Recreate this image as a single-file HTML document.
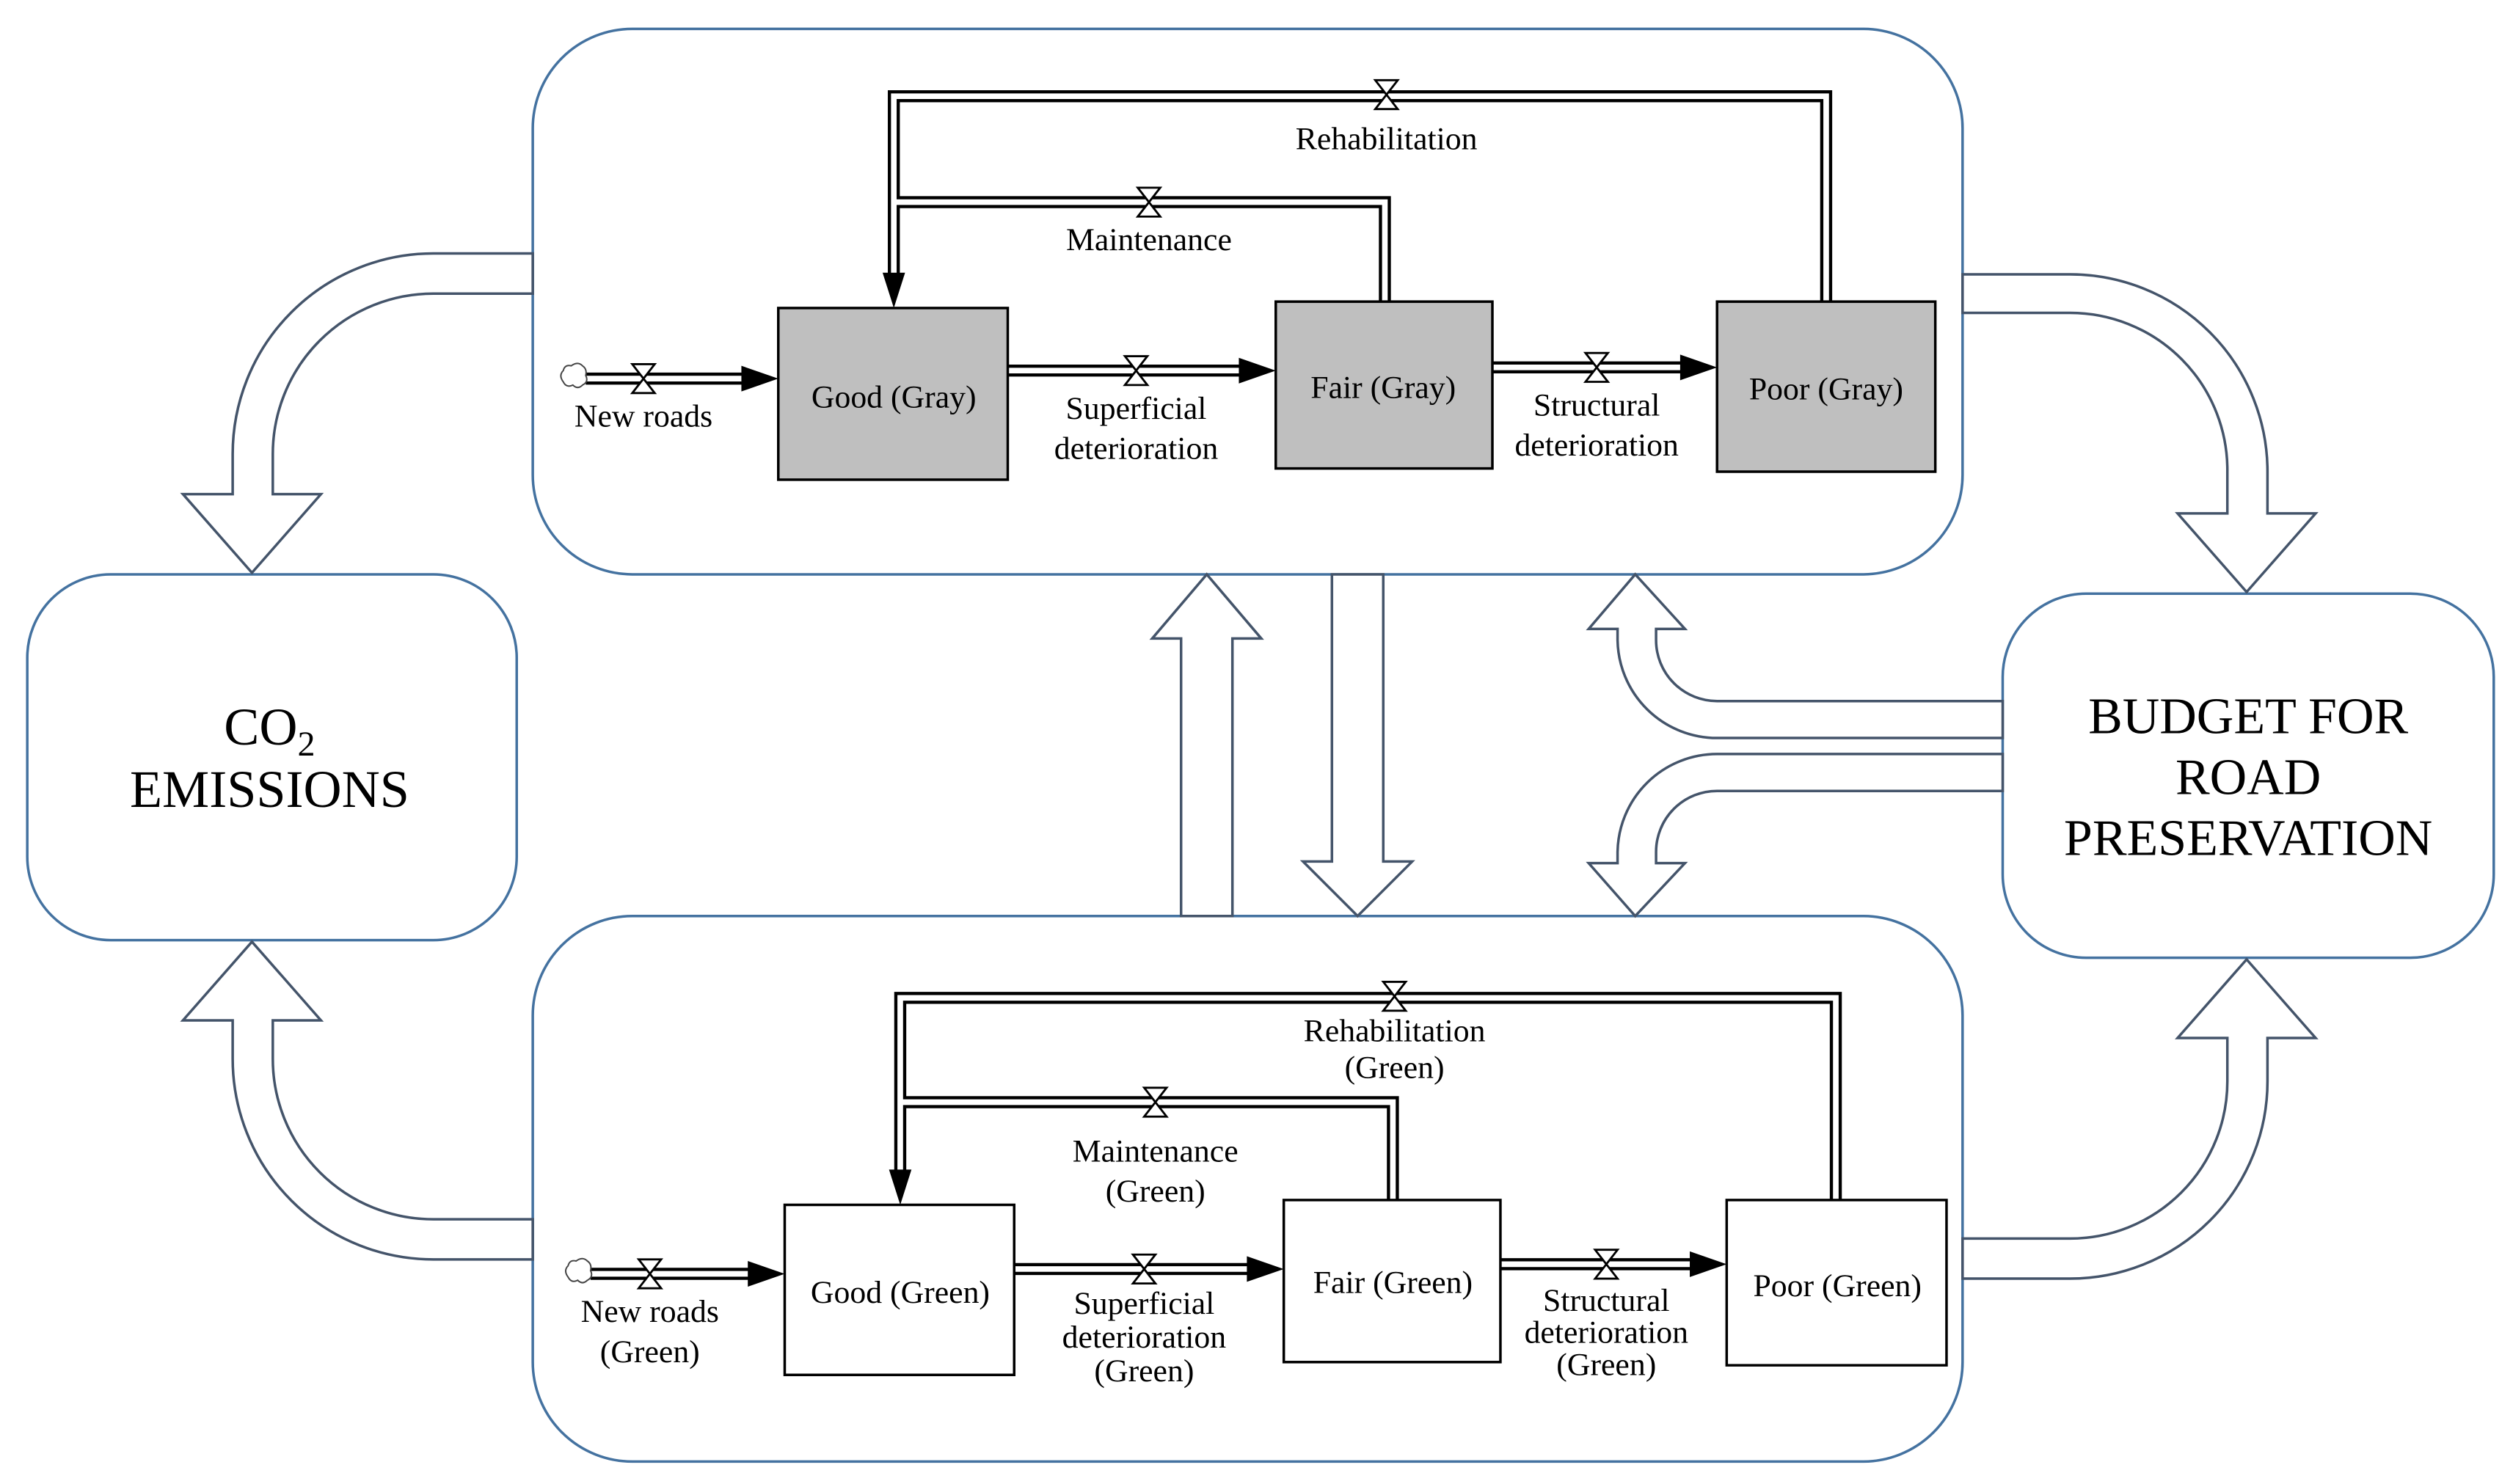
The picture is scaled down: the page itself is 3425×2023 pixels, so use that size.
<!DOCTYPE html>
<html><head><meta charset="utf-8"><style>
html,body{margin:0;padding:0;background:#fff;}
svg{display:block;}
text{font-family:"Liberation Serif",serif;fill:#000;}
</style></head><body>
<svg width="3425" height="2023" viewBox="0 0 1566 925" preserveAspectRatio="none" xmlns="http://www.w3.org/2000/svg">
<defs>
<g id="valve"><polygon points="-7,-9 7,-9 -7,9 7,9" fill="#fff" stroke="#000" stroke-width="1.3" stroke-linejoin="miter"/><line x1="-5" y1="0" x2="5" y2="0" stroke="#000" stroke-width="0"/></g>
</defs>
<!-- big boxes -->
<rect x="332" y="18" width="891" height="340" rx="62" fill="#fff" stroke="#4472a0" stroke-width="1.6"/>
<rect x="332" y="571" width="891" height="340" rx="62" fill="#fff" stroke="#4472a0" stroke-width="1.6"/>
<rect x="17" y="358" width="305" height="228" rx="52" fill="#fff" stroke="#4472a0" stroke-width="1.6"/>
<rect x="1248" y="370" width="306" height="227" rx="52" fill="#fff" stroke="#4472a0" stroke-width="1.6"/>

<g fill="#fff" stroke="#44546a" stroke-width="1.6" stroke-linejoin="miter">
<!-- top-left curved -->
<path d="M332,158 L270,158 A125,125 0 0 0 145,283 L145,308 L114,308 L157,357 L200,308 L170,308 L170,283 A100,100 0 0 1 270,183 L332,183 Z"/>
<!-- bottom-left curved -->
<path d="M332,785 L270,785 A125,125 0 0 1 145,660 L145,636 L114,636 L157,587 L200,636 L170,636 L170,660 A100,100 0 0 0 270,760 L332,760 Z"/>
<!-- top-right curved -->
<path d="M1223,171 L1290,171 A123,123 0 0 1 1413,294 L1413,320 L1443,320 L1400,369 L1357,320 L1388,320 L1388,294 A98,98 0 0 0 1290,195 L1223,195 Z"/>
<!-- bottom-right curved -->
<path d="M1223,797 L1290,797 A123,123 0 0 0 1413,674 L1413,647 L1443,647 L1400,598 L1357,647 L1388,647 L1388,674 A98,98 0 0 1 1290,772 L1223,772 Z"/>
<!-- middle up -->
<path d="M736,571 L736,398 L718,398 L752,358 L786,398 L768,398 L768,571 Z"/>
<!-- middle down -->
<path d="M830,358 L830,537 L812,537 L846,571 L880,537 L862,537 L862,358 Z"/>
<!-- budget to top -->
<path d="M1248,437 L1070,437 A38,38 0 0 1 1032,399 L1032,392 L1050,392 L1019,358 L990,392 L1008,392 L1008,399 A62,62 0 0 0 1070,460 L1248,460 Z"/>
<!-- budget to bottom -->
<path d="M1248,493 L1070,493 A38,38 0 0 0 1032,531 L1032,538 L1050,538 L1019,571 L990,538 L1008,538 L1008,531 A62,62 0 0 1 1070,470 L1248,470 Z"/>
</g>

<!-- text in side boxes -->
<text x="168" y="464" font-size="33" text-anchor="middle">CO<tspan font-size="22" dy="7">2</tspan></text>
<text x="168" y="503" font-size="33" text-anchor="middle">EMISSIONS</text>
<text x="1401" y="457" font-size="32" text-anchor="middle">BUDGET FOR</text>
<text x="1401" y="495" font-size="32" text-anchor="middle">ROAD</text>
<text x="1401" y="533" font-size="32" text-anchor="middle">PRESERVATION</text>

<!-- ===== TOP PIPES ===== -->
<g fill="none" stroke-linejoin="miter">
<g stroke="#000" stroke-width="7.5">
<polyline points="1138,188 1138,60 557,60 557,178"/>
<polyline points="863,188 863,126 557,126"/>
<line x1="365" y1="236" x2="466" y2="236"/>
<line x1="628" y1="231" x2="776" y2="231"/>
<line x1="930" y1="229" x2="1050" y2="229"/>
</g>
<g stroke="#fff" stroke-width="3.5">
<polyline points="1138,188 1138,60 557,60 557,178"/>
<polyline points="863,188 863,126 557,126"/>
<line x1="365" y1="236" x2="466" y2="236"/>
<line x1="628" y1="231" x2="776" y2="231"/>
<line x1="930" y1="229" x2="1050" y2="229"/>
</g>
</g>
<polygon points="550,170 564,170 557,192" fill="#000"/>
<polygon points="462,228 462,244 485,236" fill="#000"/>
<polygon points="772,223 772,239 795,231" fill="#000"/>
<polygon points="1047,221 1047,237 1070,229" fill="#000"/>
<use href="#valve" x="864" y="59"/>
<use href="#valve" x="716" y="126"/>
<use href="#valve" x="401" y="236"/>
<use href="#valve" x="708" y="231"/>
<use href="#valve" x="995" y="229"/>
<path d="M356,228 q4,-3 7,0 q3,2 2,6 q2,4 -2,6 q-3,3 -6,0 q-4,2 -6,-2 q-3,-4 0,-7 q1,-4 5,-3z" fill="#fff" stroke="#444" stroke-width="0.9"/>

<rect x="485" y="192" width="143" height="107" fill="#bfbfbf" stroke="#000" stroke-width="1.6"/>
<rect x="795" y="188" width="135" height="104" fill="#bfbfbf" stroke="#000" stroke-width="1.6"/>
<rect x="1070" y="188" width="136" height="106" fill="#bfbfbf" stroke="#000" stroke-width="1.6"/>
<g font-size="20" text-anchor="middle">
<text x="557" y="254">Good (Gray)</text>
<text x="862" y="248">Fair (Gray)</text>
<text x="1138" y="249">Poor (Gray)</text>
<text x="864" y="93">Rehabilitation</text>
<text x="716" y="156">Maintenance</text>
<text x="401" y="266">New roads</text>
<text x="708" y="261">Superficial</text>
<text x="708" y="286">deterioration</text>
<text x="995" y="259">Structural</text>
<text x="995" y="284">deterioration</text>
</g>

<!-- ===== BOTTOM PIPES ===== -->
<g fill="none" stroke-linejoin="miter">
<g stroke="#000" stroke-width="7.5">
<polyline points="1144,748 1144,622 561,622 561,737"/>
<polyline points="868,748 868,687 561,687"/>
<line x1="368" y1="794" x2="470" y2="794"/>
<line x1="632" y1="791" x2="781" y2="791"/>
<line x1="935" y1="788" x2="1057" y2="788"/>
</g>
<g stroke="#fff" stroke-width="3.5">
<polyline points="1144,748 1144,622 561,622 561,737"/>
<polyline points="868,748 868,687 561,687"/>
<line x1="368" y1="794" x2="470" y2="794"/>
<line x1="632" y1="791" x2="781" y2="791"/>
<line x1="935" y1="788" x2="1057" y2="788"/>
</g>
</g>
<polygon points="554,729 568,729 561,751" fill="#000"/>
<polygon points="466,786 466,802 489,794" fill="#000"/>
<polygon points="777,783 777,799 800,791" fill="#000"/>
<polygon points="1053,780 1053,796 1076,788" fill="#000"/>
<use href="#valve" x="869" y="621"/>
<use href="#valve" x="720" y="687"/>
<use href="#valve" x="405" y="794"/>
<use href="#valve" x="713" y="791"/>
<use href="#valve" x="1001" y="788"/>
<path d="M359,786 q4,-3 7,0 q3,2 2,6 q2,4 -2,6 q-3,3 -6,0 q-4,2 -6,-2 q-3,-4 0,-7 q1,-4 5,-3z" fill="#fff" stroke="#444" stroke-width="0.9"/>

<rect x="489" y="751" width="143" height="106" fill="#fff" stroke="#000" stroke-width="1.6"/>
<rect x="800" y="748" width="135" height="101" fill="#fff" stroke="#000" stroke-width="1.6"/>
<rect x="1076" y="748" width="137" height="103" fill="#fff" stroke="#000" stroke-width="1.6"/>
<g font-size="20" text-anchor="middle">
<text x="561" y="812">Good (Green)</text>
<text x="868" y="806">Fair (Green)</text>
<text x="1145" y="808">Poor (Green)</text>
<text x="869" y="649">Rehabilitation</text>
<text x="869" y="672">(Green)</text>
<text x="720" y="724">Maintenance</text>
<text x="720" y="749">(Green)</text>
<text x="405" y="824">New roads</text>
<text x="405" y="849">(Green)</text>
<text x="713" y="819">Superficial</text>
<text x="713" y="840">deterioration</text>
<text x="713" y="861">(Green)</text>
<text x="1001" y="817">Structural</text>
<text x="1001" y="837">deterioration</text>
<text x="1001" y="857">(Green)</text>
</g>
</svg>
</body></html>
